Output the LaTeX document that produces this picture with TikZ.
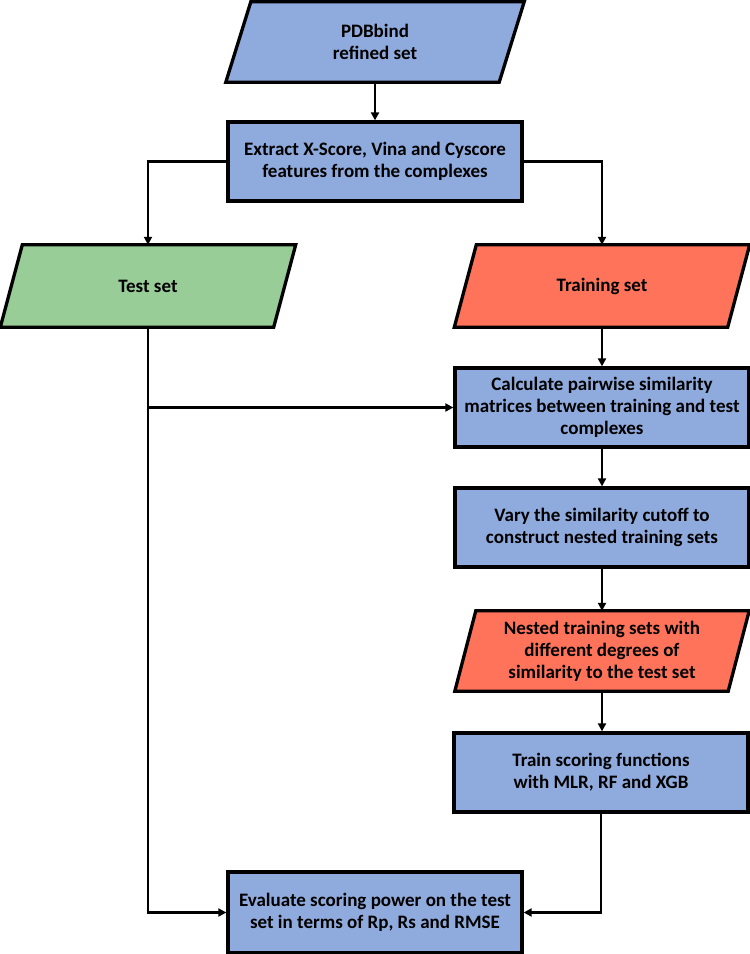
\documentclass[tikz,border=0pt]{standalone}
\usepackage{fontspec}
\setmainfont{Carlito}
\usetikzlibrary{arrows.meta,backgrounds}
\definecolor{boxblue}{HTML}{8FAADC}
\definecolor{setgreen}{HTML}{99CD97}
\definecolor{setred}{HTML}{FF735A}
\newcommand\drawpar[3]{\begin{scope}[on background layer]\draw[line width=3.3pt, fill=#3] ([xshift=#2]#1.north west) -- ([xshift=#2]#1.north east) -- ([xshift=-#2]#1.south east) -- ([xshift=-#2]#1.south west) -- cycle;\end{scope}}
\begin{document}
\begin{tikzpicture}[x=1pt,y=-1pt,
  txt/.style={align=center, font=\fontsize{19}{22}\selectfont\bfseries, inner sep=0pt},
  box/.style={txt, draw=black, line width=3.3pt, fill=boxblue, minimum width=294pt, minimum height=79pt},
  para/.style={txt, minimum width=273pt, minimum height=80pt},
  conn/.style={line width=2.7pt, -{Triangle[length=8pt,width=8pt]}}
]
\useasboundingbox (0,0) rectangle (750,954);
\node[para] (pdb) at (375,42) {PDBbind\\refined set};
\drawpar{pdb}{12.5pt}{boxblue}
\node[box] (extract) at (375,161.5) {Extract X-Score, Vina and Cyscore\\features from the complexes};
\node[para, minimum height=82pt] (test) at (148,286) {Test set};
\drawpar{test}{11pt}{setgreen}
\node[para, minimum height=82pt] (train) at (602,286) {Training set};
\drawpar{train}{11pt}{setred}
\node[box] (calc) at (602,407.5) {Calculate pairwise similarity\\matrices between training and test\\complexes};
\node[box] (vary) at (602,527.5) {Vary the similarity cutoff to\\construct nested training sets};
\node[para] (nested) at (602,651) {Nested training sets with\\different degrees of\\similarity to the test set};
\drawpar{nested}{10.5pt}{setred}
\node[box] (trainsf) at (601,772.5) {Train scoring functions\\with MLR, RF and XGB};
\node[box, minimum height=81pt] (eval) at (375,912.5) {Evaluate scoring power on the test\\set in terms of Rp, Rs and RMSE};
\coordinate (branch) at (148,407.5);
\draw[conn] (pdb) -- (extract);
\draw[conn] (extract.west) -| (test.north);
\draw[conn] (extract.east) -| (train.north);
\draw[conn] (train.south) -- (calc.north -| train.south);
\draw[conn] (calc) -- (vary);
\draw[conn] (vary) -- (nested);
\draw[conn] (nested.south) -- (trainsf.north -| nested.south);
\draw[conn] (test.south) |- (eval.west);
\draw[conn] (branch) -- (calc.west);
\draw[conn] (trainsf.south) |- (eval.east);
\end{tikzpicture}
\end{document}
